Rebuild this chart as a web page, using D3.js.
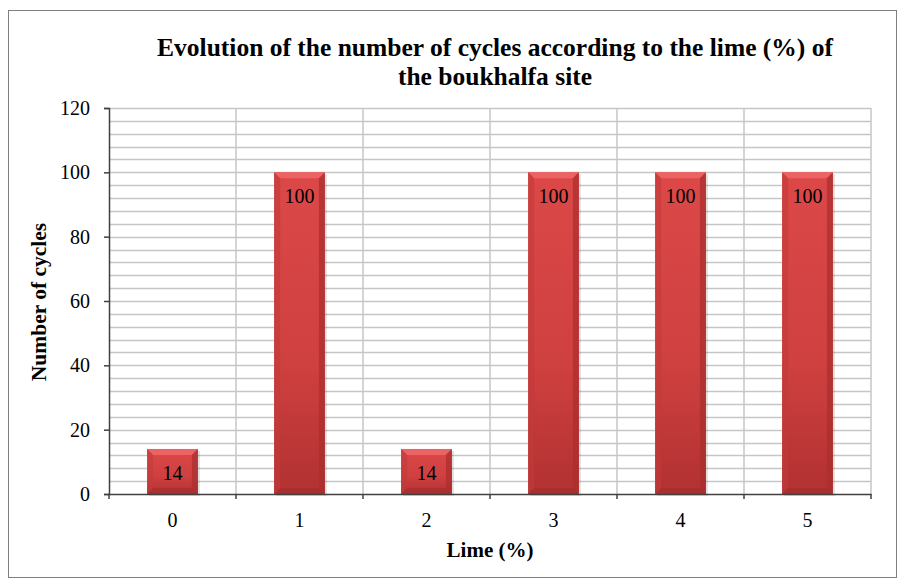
<!DOCTYPE html>
<html>
<head>
<meta charset="utf-8">
<script src="https://cdn.jsdelivr.net/npm/d3@7"></script>
<style>
  body { margin: 0; background: #fff; }
  text { font-family: "Liberation Serif", "Times New Roman", serif; }
</style>
</head>
<body>
<div id="chart"></div>
<script>
// chart data
var categories = ["0", "1", "2", "3", "4", "5"];
var cycles = [14, 100, 14, 100, 100, 100];
var yTicks = [0, 20, 40, 60, 80, 100, 120];

var w = 898, h = 578;
var margin = { top: 108, right: 27, bottom: 84, left: 109 };
var width = w - margin.left - margin.right,
    height = h - margin.top - margin.bottom;

var svg = d3.select("#chart").append("svg")
    .attr("width", w)
    .attr("height", h);

// outer frame
svg.append("rect")
    .attr("x", 8.5).attr("y", 10.5)
    .attr("width", w - 10).attr("height", h - 11)
    .attr("fill", "#fff")
    .attr("stroke", "#7f7f7f")
    .attr("stroke-width", 1);

var defs = svg.append("defs");
var grad = defs.append("linearGradient").attr("id", "barGrad")
    .attr("x1", 0).attr("x2", 0).attr("y1", 0).attr("y2", 1);
grad.append("stop").attr("offset", "0%").attr("stop-color", "#dc4848");
grad.append("stop").attr("offset", "60%").attr("stop-color", "#cf4040");
grad.append("stop").attr("offset", "100%").attr("stop-color", "#b23131");

var x = d3.scaleBand()
    .domain(categories)
    .range([0, width])
    .paddingInner(0)
    .paddingOuter(0);

var y = d3.scaleLinear()
    .domain([0, 120])
    .range([height, 0]);

var g = svg.append("g")
    .attr("transform", `translate(${margin.left},${margin.top})`);

// horizontal gridlines (every 4 units)
g.append("g").selectAll("line")
    .data(d3.range(4, 121, 4))
    .enter().append("line")
    .attr("x1", 0).attr("x2", width)
    .attr("y1", d => Math.round(y(d)) + 0.5)
    .attr("y2", d => Math.round(y(d)) + 0.5)
    .attr("stroke", "#c6c6c6")
    .attr("stroke-width", 1.5);

// vertical gridlines at category boundaries
g.append("g").selectAll("line")
    .data(categories.slice(1).concat(["end"]))
    .enter().append("line")
    .attr("x1", d => d === "end" ? width : x(d))
    .attr("x2", d => d === "end" ? width : x(d))
    .attr("y1", 0).attr("y2", height)
    .attr("stroke", "#c6c6c6")
    .attr("stroke-width", 1.5);

// bars
var barW = x.bandwidth() * 0.4;
var bev = 6;
var bars = g.selectAll(".bar")
    .data(categories.map((c, i) => ({ cat: c, val: cycles[i] })))
    .enter().append("g")
    .attr("class", "bar");

// soft shadow
bars.append("rect")
    .attr("x", d => x(d.cat) + (x.bandwidth() - barW) / 2 + 2)
    .attr("y", d => y(d.val) + 2)
    .attr("width", barW)
    .attr("height", d => height - y(d.val))
    .attr("fill", "#000")
    .attr("opacity", 0.12);

bars.append("rect")
    .attr("x", d => x(d.cat) + (x.bandwidth() - barW) / 2)
    .attr("y", d => y(d.val))
    .attr("width", barW)
    .attr("height", d => height - y(d.val))
    .attr("fill", "url(#barGrad)");

// bevel edges
function bevel(d, side) {
    var x0 = x(d.cat) + (x.bandwidth() - barW) / 2, x1 = x0 + barW;
    var y0 = y(d.val), y1 = y(0);
    if (side === "top") return [[x0, y0], [x1, y0], [x1 - bev, y0 + bev], [x0 + bev, y0 + bev]];
    if (side === "bottom") return [[x0, y1], [x1, y1], [x1 - bev, y1 - bev], [x0 + bev, y1 - bev]];
    if (side === "left") return [[x0, y0], [x0 + bev, y0 + bev], [x0 + bev, y1 - bev], [x0, y1]];
    return [[x1, y0], [x1 - bev, y0 + bev], [x1 - bev, y1 - bev], [x1, y1]];
}
var bevelFill = { top: "#ee6666", bottom: "#a02c2c", left: "#c23a3a", right: "#aa2e2e" };
var bevelOpacity = { top: 0.9, bottom: 0.5, left: 0.6, right: 0.7 };
["top", "left", "right", "bottom"].forEach(side => {
    bars.append("polygon")
        .attr("points", d => bevel(d, side).join(" "))
        .attr("fill", bevelFill[side])
        .attr("opacity", bevelOpacity[side]);
});

// value labels
bars.append("text")
    .attr("x", d => x(d.cat) + x.bandwidth() / 2)
    .attr("y", d => y(d.val) + 31)
    .attr("text-anchor", "middle")
    .attr("font-size", 20)
    .attr("fill", "#000")
    .text(d => d.val);

// y axis
var yAxis = g.append("g")
    .call(d3.axisLeft(y).tickValues(yTicks).tickSize(5).tickPadding(14));
yAxis.select(".domain").attr("stroke", "#404040").attr("stroke-width", 1.5);
yAxis.selectAll(".tick line").attr("stroke", "#404040").attr("stroke-width", 1.5);
yAxis.selectAll("text").attr("font-size", 20).attr("fill", "#000")
    .style("font-family", "Liberation Serif, serif");

// x axis
var xAxis = g.append("g")
    .attr("transform", `translate(0,${height})`)
    .call(d3.axisBottom(x).tickSize(0).tickPadding(19));
xAxis.select(".domain").attr("stroke", "#404040").attr("stroke-width", 1.5);
xAxis.selectAll("text").attr("font-size", 20).attr("fill", "#000")
    .style("font-family", "Liberation Serif, serif");
// x tick marks at boundaries
g.append("g").selectAll("line")
    .data(d3.range(categories.length + 1))
    .enter().append("line")
    .attr("x1", i => i * x.step()).attr("x2", i => i * x.step())
    .attr("y1", height).attr("y2", height + 5)
    .attr("stroke", "#404040")
    .attr("stroke-width", 1.5);

// title
svg.append("text")
    .attr("x", 495).attr("y", 56)
    .attr("text-anchor", "middle")
    .attr("font-size", 25.5).attr("font-weight", "bold")
    .text("Evolution of the number of cycles according to the lime (%) of");
svg.append("text")
    .attr("x", 495).attr("y", 85)
    .attr("text-anchor", "middle")
    .attr("font-size", 25.5).attr("font-weight", "bold")
    .text("the boukhalfa site");

// axis titles
svg.append("text")
    .attr("transform", "translate(46,302) rotate(-90)")
    .attr("text-anchor", "middle")
    .attr("font-size", 21.5).attr("font-weight", "bold")
    .text("Number of cycles");
svg.append("text")
    .attr("x", 490).attr("y", 557)
    .attr("text-anchor", "middle")
    .attr("font-size", 21).attr("font-weight", "bold")
    .text("Lime (%)");
</script>
</body>
</html>
